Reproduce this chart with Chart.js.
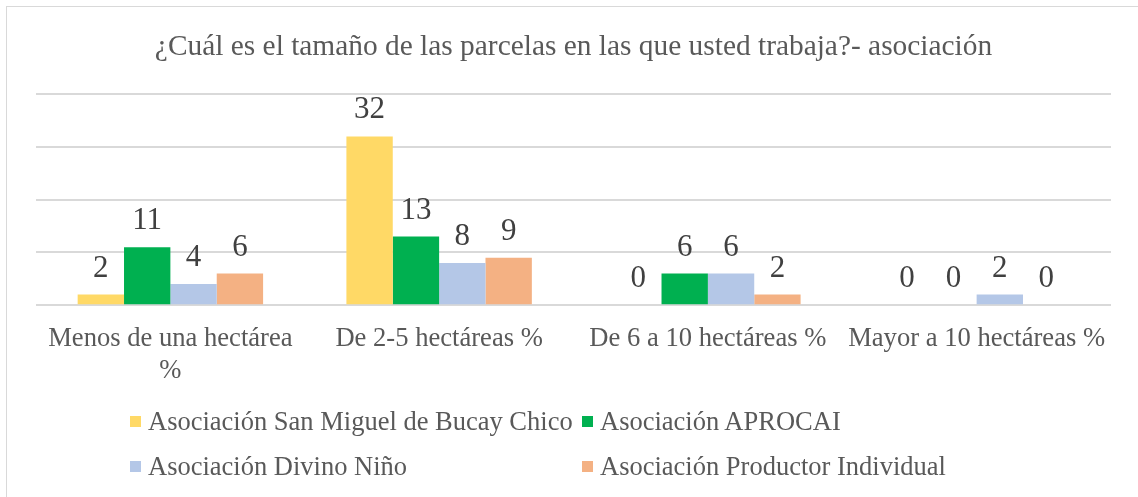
<!DOCTYPE html>
<html>
<head>
<meta charset="utf-8">
<script src="https://cdn.jsdelivr.net/npm/chart.js@4.4.0/dist/chart.umd.min.js"></script>
<style>
  html, body { margin: 0; padding: 0; background: #fff; overflow: hidden; }
  #wrap { position: relative; width: 1138px; height: 497px; }
  #frame { position: absolute; left: 6px; top: 6px; width: 1150px; height: 520px; border: 1.5px solid #d9d9d9; box-sizing: border-box; }
  canvas { position: absolute; left: 0; top: 0; }
  .lg { position: absolute; font: 26.5px "Liberation Serif", "Times New Roman", serif; color: #595959; white-space: nowrap; line-height: 30px; }
  .lg i { position: absolute; width: 11px; height: 11px; left: -18px; top: 10px; }
</style>
</head>
<body>
<div id="wrap">
  <div id="frame"></div>
  <canvas id="chart" width="1138" height="497"></canvas>
  <div id="legend"></div>
</div>
<script>
const TITLE = "¿Cuál es el tamaño de las parcelas en las que usted trabaja?- asociación";
const categories = [["Menos de una hectárea", "%"], "De 2-5 hectáreas %", "De 6 a 10 hectáreas %", "Mayor a 10 hectáreas %"];
const seriesNames = ["Asociación San Miguel de Bucay Chico", "Asociación APROCAI", "Asociación Divino Niño", "Asociación Productor Individual"];
const sanMiguel = [2, 32, 0, 0];
const aprocai = [11, 13, 6, 0];
const divinoNino = [4, 8, 6, 2];
const productor = [6, 9, 2, 0];
const colors = ["#FFD966", "#00B050", "#B4C7E7", "#F4B183"];

const serif = '"Liberation Serif", "Times New Roman", serif';

// value labels above each bar
const valueLabels = {
  id: "valueLabels",
  afterDatasetsDraw(chart) {
    const ctx = chart.ctx;
    ctx.save();
    ctx.font = "31px " + serif;
    ctx.fillStyle = "#404040";
    ctx.textAlign = "center";
    ctx.textBaseline = "alphabetic";
    chart.data.datasets.forEach((ds, i) => {
      chart.getDatasetMeta(i).data.forEach((bar, j) => {
        ctx.fillText(String(ds.data[j]), bar.x, bar.y - 18);
      });
    });
    ctx.restore();
  },
};

const seriesData = [sanMiguel, aprocai, divinoNino, productor];

new Chart(document.getElementById("chart"), {
  type: "bar",
  data: {
    labels: categories,
    datasets: seriesData.map((d, i) => ({
      label: seriesNames[i],
      data: d,
      backgroundColor: colors[i],
      borderWidth: 0,
      barPercentage: 1,
      categoryPercentage: 0.69,
    })),
  },
  options: {
    responsive: false,
    animation: false,
    layout: { padding: { left: 36, right: 27, top: 0, bottom: 100 } },
    plugins: {
      legend: { display: false },
      tooltip: { enabled: false },
      title: {
        display: true,
        text: TITLE,
        color: "#595959",
        font: { family: serif, size: 29.4, weight: "normal" },
        padding: { top: 30, bottom: 29 },
      },
    },
    scales: {
      x: {
        grid: { display: false },
        border: { display: false },
        ticks: {
          color: "#595959",
          font: { family: serif, size: 26.6 },
          maxRotation: 0,
          autoSkip: false,
          padding: 10,
        },
      },
      y: {
        min: 0,
        max: 40,
        ticks: { display: false, stepSize: 10 },
        grid: { color: "#d9d9d9", lineWidth: 2, drawTicks: false },
        border: { display: false },
      },
    },
  },
  plugins: [valueLabels],
});

// legend in two aligned columns
const legendPos = [[148, 406], [600, 406], [148, 451], [600, 451]];
const legend = document.getElementById("legend");
seriesNames.forEach((name, i) => {
  const item = document.createElement("div");
  item.className = "lg";
  item.style.left = legendPos[i][0] + "px";
  item.style.top = legendPos[i][1] + "px";
  const sw = document.createElement("i");
  sw.style.background = colors[i];
  item.appendChild(sw);
  item.appendChild(document.createTextNode(name));
  legend.appendChild(item);
});
</script>
</body>
</html>
